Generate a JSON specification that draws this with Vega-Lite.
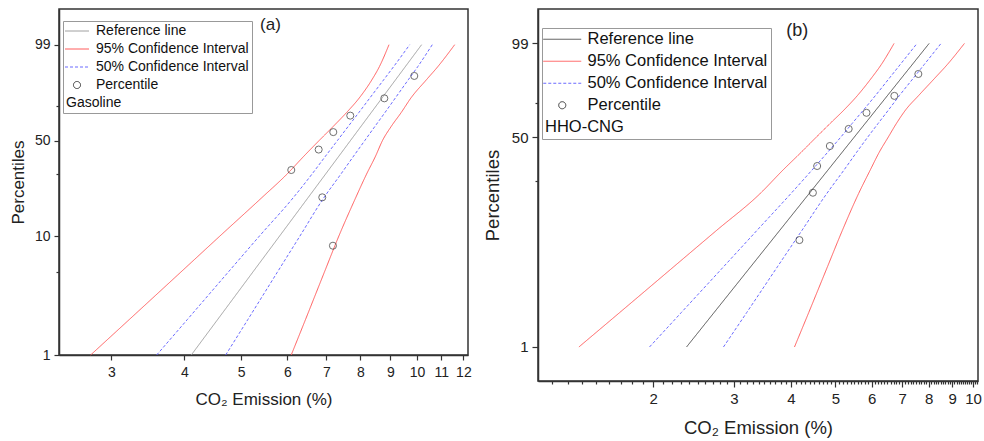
{
  "$schema": "https://vega.github.io/schema/vega-lite/v6.json",
  "background": "white",
  "padding": {"left": 8, "top": 8, "right": 5, "bottom": 2},
  "spacing": 10,
  "config": {
    "font": "Liberation Sans",
    "view": {"stroke": "#333333", "strokeWidth": 1.5},
    "axis": {"domainColor": "#333333", "domainWidth": 1.5, "tickColor": "#333333", "tickWidth": 1.2, "labelColor": "#222222", "titleColor": "#222222", "titleFontWeight": "normal", "grid": false, "labelFont": "Liberation Sans", "titleFont": "Liberation Sans", "labelFlush": false, "labelOverlap": false},
    "legend": {"labelFont": "Liberation Sans", "titleFont": "Liberation Sans"}
  },
  "resolve": {
    "scale": {"x": "independent", "y": "independent", "color": "independent", "strokeDash": "independent"},
    "legend": {"color": "independent", "strokeDash": "independent"}
  },
  "hconcat": [
    {
      "width": 409,
      "height": 346,
      "data": {"values": [
        {"series": "Reference line", "side": "c", "p": 1, "x": 4.111},
        {"series": "Reference line", "side": "c", "p": 99, "x": 10.18},
        {"series": "95% Confidence Interval", "side": "lo", "p": 1, "x": 2.766},
        {"series": "95% Confidence Interval", "side": "lo", "p": 2, "x": 3.219},
        {"series": "95% Confidence Interval", "side": "lo", "p": 5, "x": 3.939},
        {"series": "95% Confidence Interval", "side": "lo", "p": 10, "x": 4.602},
        {"series": "95% Confidence Interval", "side": "lo", "p": 20, "x": 5.419},
        {"series": "95% Confidence Interval", "side": "lo", "p": 30, "x": 5.989},
        {"series": "95% Confidence Interval", "side": "lo", "p": 40, "x": 6.407},
        {"series": "95% Confidence Interval", "side": "lo", "p": 50, "x": 6.799},
        {"series": "95% Confidence Interval", "side": "lo", "p": 60, "x": 7.187},
        {"series": "95% Confidence Interval", "side": "lo", "p": 70, "x": 7.573},
        {"series": "95% Confidence Interval", "side": "lo", "p": 80, "x": 7.965},
        {"series": "95% Confidence Interval", "side": "lo", "p": 90, "x": 8.37},
        {"series": "95% Confidence Interval", "side": "lo", "p": 95, "x": 8.624},
        {"series": "95% Confidence Interval", "side": "lo", "p": 99, "x": 8.953},
        {"series": "95% Confidence Interval", "side": "hi", "p": 1, "x": 6.093},
        {"series": "95% Confidence Interval", "side": "hi", "p": 2, "x": 6.444},
        {"series": "95% Confidence Interval", "side": "hi", "p": 5, "x": 6.939},
        {"series": "95% Confidence Interval", "side": "hi", "p": 10, "x": 7.35},
        {"series": "95% Confidence Interval", "side": "hi", "p": 20, "x": 7.849},
        {"series": "95% Confidence Interval", "side": "hi", "p": 30, "x": 8.194},
        {"series": "95% Confidence Interval", "side": "hi", "p": 40, "x": 8.493},
        {"series": "95% Confidence Interval", "side": "hi", "p": 50, "x": 8.726},
        {"series": "95% Confidence Interval", "side": "hi", "p": 60, "x": 9.031},
        {"series": "95% Confidence Interval", "side": "hi", "p": 70, "x": 9.392},
        {"series": "95% Confidence Interval", "side": "hi", "p": 80, "x": 9.762},
        {"series": "95% Confidence Interval", "side": "hi", "p": 90, "x": 10.373},
        {"series": "95% Confidence Interval", "side": "hi", "p": 95, "x": 10.857},
        {"series": "95% Confidence Interval", "side": "hi", "p": 99, "x": 11.596},
        {"series": "50% Confidence Interval", "side": "lo", "p": 1, "x": 3.587},
        {"series": "50% Confidence Interval", "side": "lo", "p": 2, "x": 4.046},
        {"series": "50% Confidence Interval", "side": "lo", "p": 5, "x": 4.749},
        {"series": "50% Confidence Interval", "side": "lo", "p": 10, "x": 5.377},
        {"series": "50% Confidence Interval", "side": "lo", "p": 20, "x": 6.135},
        {"series": "50% Confidence Interval", "side": "lo", "p": 30, "x": 6.609},
        {"series": "50% Confidence Interval", "side": "lo", "p": 40, "x": 6.975},
        {"series": "50% Confidence Interval", "side": "lo", "p": 50, "x": 7.307},
        {"series": "50% Confidence Interval", "side": "lo", "p": 60, "x": 7.624},
        {"series": "50% Confidence Interval", "side": "lo", "p": 70, "x": 7.949},
        {"series": "50% Confidence Interval", "side": "lo", "p": 80, "x": 8.304},
        {"series": "50% Confidence Interval", "side": "lo", "p": 90, "x": 8.768},
        {"series": "50% Confidence Interval", "side": "lo", "p": 95, "x": 9.123},
        {"series": "50% Confidence Interval", "side": "lo", "p": 99, "x": 9.713},
        {"series": "50% Confidence Interval", "side": "hi", "p": 1, "x": 4.707},
        {"series": "50% Confidence Interval", "side": "hi", "p": 2, "x": 5.135},
        {"series": "50% Confidence Interval", "side": "hi", "p": 5, "x": 5.765},
        {"series": "50% Confidence Interval", "side": "hi", "p": 10, "x": 6.306},
        {"series": "50% Confidence Interval", "side": "hi", "p": 20, "x": 6.923},
        {"series": "50% Confidence Interval", "side": "hi", "p": 30, "x": 7.405},
        {"series": "50% Confidence Interval", "side": "hi", "p": 40, "x": 7.79},
        {"series": "50% Confidence Interval", "side": "hi", "p": 50, "x": 8.138},
        {"series": "50% Confidence Interval", "side": "hi", "p": 60, "x": 8.469},
        {"series": "50% Confidence Interval", "side": "hi", "p": 70, "x": 8.81},
        {"series": "50% Confidence Interval", "side": "hi", "p": 80, "x": 9.181},
        {"series": "50% Confidence Interval", "side": "hi", "p": 90, "x": 9.659},
        {"series": "50% Confidence Interval", "side": "hi", "p": 95, "x": 10.031},
        {"series": "50% Confidence Interval", "side": "hi", "p": 99, "x": 10.617},
        {"series": "Percentile", "side": "pt", "p": 8.33, "x": 7.18},
        {"series": "Percentile", "side": "pt", "p": 20.24, "x": 6.885},
        {"series": "Percentile", "side": "pt", "p": 32.14, "x": 6.094},
        {"series": "Percentile", "side": "pt", "p": 44.05, "x": 6.788},
        {"series": "Percentile", "side": "pt", "p": 55.95, "x": 7.19},
        {"series": "Percentile", "side": "pt", "p": 67.86, "x": 7.687},
        {"series": "Percentile", "side": "pt", "p": 79.76, "x": 8.79},
        {"series": "Percentile", "side": "pt", "p": 91.67, "x": 9.89}
      ]},
      "layer": [
        {
          "transform": [
            {"filter": "datum.series !== 'Percentile'"},
            {"calculate": "log(-log(1 - datum.p / 100))", "as": "w"}
          ],
          "mark": {"type": "line", "strokeWidth": 1, "interpolate": "monotone"},
          "encoding": {
            "x": {
              "field": "x", "type": "quantitative",
              "scale": {"type": "log", "domain": [2.442, 12.22], "nice": false},
              "axis": {"title": "CO₂ Emission (%)", "values": [3, 4, 5, 6, 7, 8, 9, 10, 11, 12], "labelExpr": "format(datum.value, 'd')", "tickSize": 5, "labelFontSize": 14, "labelPadding": 5, "titleFontSize": 17, "titlePadding": 12}
            },
            "y": {
              "field": "w", "type": "quantitative",
              "scale": {"domain": [-4.60015, 2.2322], "nice": false, "zero": false},
              "axis": {
                "title": "Percentiles",
                "values": [-4.60015, -2.9702, -2.25037, -1.03093, -0.36651, 0.32663, 1.52718],
                "labelExpr": "indexof([1, 10, 50, 99], round(100 * (1 - exp(-exp(datum.value))))) >= 0 ? format(round(100 * (1 - exp(-exp(datum.value)))), 'd') : ''",
                "tickSize": {"condition": {"test": "indexof([1, 10, 50, 99], round(100 * (1 - exp(-exp(datum.value))))) < 0", "value": 3}, "value": 5},
                "labelFontSize": 14, "labelPadding": 4, "titleFontSize": 17, "titlePadding": 7
              }
            },
            "color": {
              "field": "series", "type": "nominal",
              "scale": {"domain": ["Reference line", "95% Confidence Interval", "50% Confidence Interval", "Percentile"], "range": ["#a0a0a0", "#ff5c5c", "#6b6bff", "#333333"]},
              "legend": {
                "title": "Gasoline", "titleOrient": "bottom", "titleAnchor": "start", "titleFontSize": 14, "titleFontWeight": "normal", "titleColor": "#111111", "titlePadding": 4,
                "orient": "none", "legendX": 4, "legendY": 12,
                "padding": 3, "strokeColor": "#999999", "fillColor": "white",
                "labelFontSize": 14, "labelColor": "#111111", "labelOffset": 12, "labelLimit": 300,
                "symbolType": "M-3,0L3,0", "symbolSize": 64, "symbolStrokeWidth": 1, "symbolOffset": 4, "rowPadding": 4,
                "encode": {"symbols": {"update": {
                  "shape": {"signal": "datum.value === 'Percentile' ? 'circle' : 'M-3,0L3,0'"},
                  "size": {"signal": "datum.value === 'Percentile' ? 50 : 64"},
                  "fill": {"value": "transparent"},
                  "strokeDash": {"signal": "datum.value === '50% Confidence Interval' ? [3, 2] : [1, 0]"}
                }}}
              }
            },
            "strokeDash": {
              "field": "series", "type": "nominal",
              "scale": {"domain": ["Reference line", "95% Confidence Interval", "50% Confidence Interval", "Percentile"], "range": [[1, 0], [1, 0], [3, 2], [1, 0]]},
              "legend": null
            },
            "detail": {"field": "side"},
            "order": {"field": "p", "type": "quantitative"}
          }
        },
        {
          "transform": [
            {"filter": "datum.series === 'Percentile'"},
            {"calculate": "log(-log(1 - datum.p / 100))", "as": "w"}
          ],
          "mark": {"type": "point", "shape": "circle", "filled": false, "size": 50, "strokeWidth": 1},
          "encoding": {
            "x": {"field": "x", "type": "quantitative"},
            "y": {"field": "w", "type": "quantitative"},
            "color": {"field": "series", "type": "nominal"}
          }
        },
        {
          "data": {"values": [{"label": "(a)"}]},
          "mark": {"type": "text", "fontSize": 17, "color": "#222222", "font": "Liberation Sans"},
          "encoding": {
            "x": {"datum": 5.615, "type": "quantitative"},
            "y": {"datum": 1.9261, "type": "quantitative"},
            "text": {"field": "label"}
          }
        }
      ]
    },
    {
      "width": 440,
      "height": 372,
      "data": {"values": [
        {"series": "Reference line", "side": "c", "p": 1, "x": 2.365},
        {"series": "Reference line", "side": "c", "p": 99, "x": 8.016},
        {"series": "95% Confidence Interval", "side": "lo", "p": 1, "x": 1.376},
        {"series": "95% Confidence Interval", "side": "lo", "p": 2, "x": 1.691},
        {"series": "95% Confidence Interval", "side": "lo", "p": 5, "x": 2.224},
        {"series": "95% Confidence Interval", "side": "lo", "p": 10, "x": 2.748},
        {"series": "95% Confidence Interval", "side": "lo", "p": 20, "x": 3.428},
        {"series": "95% Confidence Interval", "side": "lo", "p": 30, "x": 3.84},
        {"series": "95% Confidence Interval", "side": "lo", "p": 40, "x": 4.209},
        {"series": "95% Confidence Interval", "side": "lo", "p": 50, "x": 4.541},
        {"series": "95% Confidence Interval", "side": "lo", "p": 60, "x": 4.872},
        {"series": "95% Confidence Interval", "side": "lo", "p": 70, "x": 5.225},
        {"series": "95% Confidence Interval", "side": "lo", "p": 80, "x": 5.589},
        {"series": "95% Confidence Interval", "side": "lo", "p": 90, "x": 6.003},
        {"series": "95% Confidence Interval", "side": "lo", "p": 95, "x": 6.297},
        {"series": "95% Confidence Interval", "side": "lo", "p": 99, "x": 6.719},
        {"series": "95% Confidence Interval", "side": "hi", "p": 1, "x": 4.071},
        {"series": "95% Confidence Interval", "side": "hi", "p": 2, "x": 4.375},
        {"series": "95% Confidence Interval", "side": "hi", "p": 5, "x": 4.811},
        {"series": "95% Confidence Interval", "side": "hi", "p": 10, "x": 5.178},
        {"series": "95% Confidence Interval", "side": "hi", "p": 20, "x": 5.623},
        {"series": "95% Confidence Interval", "side": "hi", "p": 30, "x": 5.958},
        {"series": "95% Confidence Interval", "side": "hi", "p": 40, "x": 6.234},
        {"series": "95% Confidence Interval", "side": "hi", "p": 50, "x": 6.523},
        {"series": "95% Confidence Interval", "side": "hi", "p": 60, "x": 6.8},
        {"series": "95% Confidence Interval", "side": "hi", "p": 70, "x": 7.123},
        {"series": "95% Confidence Interval", "side": "hi", "p": 80, "x": 7.604},
        {"series": "95% Confidence Interval", "side": "hi", "p": 90, "x": 8.262},
        {"series": "95% Confidence Interval", "side": "hi", "p": 95, "x": 8.776},
        {"series": "95% Confidence Interval", "side": "hi", "p": 99, "x": 9.574},
        {"series": "50% Confidence Interval", "side": "lo", "p": 1, "x": 1.963},
        {"series": "50% Confidence Interval", "side": "lo", "p": 2, "x": 2.305},
        {"series": "50% Confidence Interval", "side": "lo", "p": 5, "x": 2.856},
        {"series": "50% Confidence Interval", "side": "lo", "p": 10, "x": 3.368},
        {"series": "50% Confidence Interval", "side": "lo", "p": 20, "x": 4.002},
        {"series": "50% Confidence Interval", "side": "lo", "p": 30, "x": 4.444},
        {"series": "50% Confidence Interval", "side": "lo", "p": 40, "x": 4.809},
        {"series": "50% Confidence Interval", "side": "lo", "p": 50, "x": 5.136},
        {"series": "50% Confidence Interval", "side": "lo", "p": 60, "x": 5.442},
        {"series": "50% Confidence Interval", "side": "lo", "p": 70, "x": 5.763},
        {"series": "50% Confidence Interval", "side": "lo", "p": 80, "x": 6.119},
        {"series": "50% Confidence Interval", "side": "lo", "p": 90, "x": 6.572},
        {"series": "50% Confidence Interval", "side": "lo", "p": 95, "x": 6.925},
        {"series": "50% Confidence Interval", "side": "lo", "p": 99, "x": 7.543},
        {"series": "50% Confidence Interval", "side": "hi", "p": 1, "x": 2.848},
        {"series": "50% Confidence Interval", "side": "hi", "p": 2, "x": 3.203},
        {"series": "50% Confidence Interval", "side": "hi", "p": 5, "x": 3.743},
        {"series": "50% Confidence Interval", "side": "hi", "p": 10, "x": 4.224},
        {"series": "50% Confidence Interval", "side": "hi", "p": 20, "x": 4.792},
        {"series": "50% Confidence Interval", "side": "hi", "p": 30, "x": 5.22},
        {"series": "50% Confidence Interval", "side": "hi", "p": 40, "x": 5.564},
        {"series": "50% Confidence Interval", "side": "hi", "p": 50, "x": 5.883},
        {"series": "50% Confidence Interval", "side": "hi", "p": 60, "x": 6.202},
        {"series": "50% Confidence Interval", "side": "hi", "p": 70, "x": 6.536},
        {"series": "50% Confidence Interval", "side": "hi", "p": 80, "x": 6.904},
        {"series": "50% Confidence Interval", "side": "hi", "p": 90, "x": 7.415},
        {"series": "50% Confidence Interval", "side": "hi", "p": 95, "x": 7.814},
        {"series": "50% Confidence Interval", "side": "hi", "p": 99, "x": 8.511},
        {"series": "Percentile", "side": "pt", "p": 8.33, "x": 4.173},
        {"series": "Percentile", "side": "pt", "p": 20.24, "x": 4.466},
        {"series": "Percentile", "side": "pt", "p": 32.14, "x": 4.563},
        {"series": "Percentile", "side": "pt", "p": 44.05, "x": 4.864},
        {"series": "Percentile", "side": "pt", "p": 55.95, "x": 5.347},
        {"series": "Percentile", "side": "pt", "p": 67.86, "x": 5.848},
        {"series": "Percentile", "side": "pt", "p": 79.76, "x": 6.729},
        {"series": "Percentile", "side": "pt", "p": 91.67, "x": 7.592}
      ]},
      "layer": [
        {
          "transform": [
            {"filter": "datum.series !== 'Percentile'"},
            {"calculate": "log(-log(1 - datum.p / 100))", "as": "w"}
          ],
          "mark": {"type": "line", "strokeWidth": 1, "interpolate": "monotone"},
          "encoding": {
            "x": {
              "field": "x", "type": "quantitative",
              "scale": {"type": "log", "domain": [1.12, 10.25], "nice": false},
              "axis": {
                "title": "CO₂ Emission (%)",
                "values": [1.2, 1.3, 1.4, 1.5, 1.6, 1.7, 1.8, 1.9, 2, 2.1, 2.2, 2.3, 2.4, 2.5, 2.6, 2.7, 2.8, 2.9, 3, 3.1, 3.2, 3.3, 3.4, 3.5, 3.6, 3.7, 3.8, 3.9, 4, 4.1, 4.2, 4.3, 4.4, 4.5, 4.6, 4.7, 4.8, 4.9, 5, 5.1, 5.2, 5.3, 5.4, 5.5, 5.6, 5.7, 5.8, 5.9, 6, 6.1, 6.2, 6.3, 6.4, 6.5, 6.6, 6.7, 6.8, 6.9, 7, 7.1, 7.2, 7.3, 7.4, 7.5, 7.6, 7.7, 7.8, 7.9, 8, 8.1, 8.2, 8.3, 8.4, 8.5, 8.6, 8.7, 8.8, 8.9, 9, 9.1, 9.2, 9.3, 9.4, 9.5, 9.6, 9.7, 9.8, 9.9, 10, 10.1, 10.2],
                "labelExpr": "abs(datum.value - round(datum.value)) < 0.01 ? format(datum.value, 'd') : ''",
                "tickSize": {"condition": {"test": "abs(datum.value - round(datum.value)) > 0.01", "value": 3}, "value": 6},
                "labelFontSize": 15, "labelPadding": 4, "titleFontSize": 18.5, "titlePadding": 12
              }
            },
            "y": {
              "field": "w", "type": "quantitative",
              "scale": {"domain": [-5.287, 2.2221], "nice": false, "zero": false},
              "axis": {
                "title": "Percentiles",
                "values": [-4.60015, -1.2459, -0.36651, 0.32663, 1.52718],
                "labelExpr": "indexof([1, 50, 99], round(100 * (1 - exp(-exp(datum.value))))) >= 0 ? format(round(100 * (1 - exp(-exp(datum.value)))), 'd') : ''",
                "tickSize": {"condition": {"test": "indexof([1, 50, 99], round(100 * (1 - exp(-exp(datum.value))))) < 0", "value": 3}, "value": 6},
                "labelFontSize": 15, "labelPadding": 4, "titleFontSize": 18.5, "titlePadding": 9
              }
            },
            "color": {
              "field": "series", "type": "nominal",
              "scale": {"domain": ["Reference line", "95% Confidence Interval", "50% Confidence Interval", "Percentile"], "range": ["#505050", "#ff5c5c", "#6b6bff", "#333333"]},
              "legend": {
                "title": "HHO-CNG", "titleOrient": "bottom", "titleAnchor": "start", "titleFontSize": 16.5, "titleFontWeight": "normal", "titleColor": "#111111", "titlePadding": 5,
                "orient": "none", "legendX": 4, "legendY": 19,
                "padding": 3, "strokeColor": "#999999", "fillColor": "white",
                "labelFontSize": 16.5, "labelColor": "#111111", "labelOffset": 17, "labelLimit": 300,
                "symbolType": "M-3,0L3,0", "symbolSize": 160, "symbolStrokeWidth": 1, "symbolOffset": 9, "rowPadding": 5,
                "encode": {"symbols": {"update": {
                  "shape": {"signal": "datum.value === 'Percentile' ? 'circle' : 'M-3,0L3,0'"},
                  "size": {"signal": "datum.value === 'Percentile' ? 50 : 160"},
                  "fill": {"value": "transparent"},
                  "strokeDash": {"signal": "datum.value === '50% Confidence Interval' ? [3, 2] : [1, 0]"}
                }}}
              }
            },
            "strokeDash": {
              "field": "series", "type": "nominal",
              "scale": {"domain": ["Reference line", "95% Confidence Interval", "50% Confidence Interval", "Percentile"], "range": [[1, 0], [1, 0], [3, 2], [1, 0]]},
              "legend": null
            },
            "detail": {"field": "side"},
            "order": {"field": "p", "type": "quantitative"}
          }
        },
        {
          "transform": [
            {"filter": "datum.series === 'Percentile'"},
            {"calculate": "log(-log(1 - datum.p / 100))", "as": "w"}
          ],
          "mark": {"type": "point", "shape": "circle", "filled": false, "size": 50, "strokeWidth": 1},
          "encoding": {
            "x": {"field": "x", "type": "quantitative"},
            "y": {"field": "w", "type": "quantitative"},
            "color": {"field": "series", "type": "nominal"}
          }
        },
        {
          "data": {"values": [{"label": "(b)"}]},
          "mark": {"type": "text", "fontSize": 18, "color": "#222222", "font": "Liberation Sans"},
          "encoding": {
            "x": {"datum": 4.127, "type": "quantitative"},
            "y": {"datum": 1.7838, "type": "quantitative"},
            "text": {"field": "label"}
          }
        }
      ]
    }
  ]
}
